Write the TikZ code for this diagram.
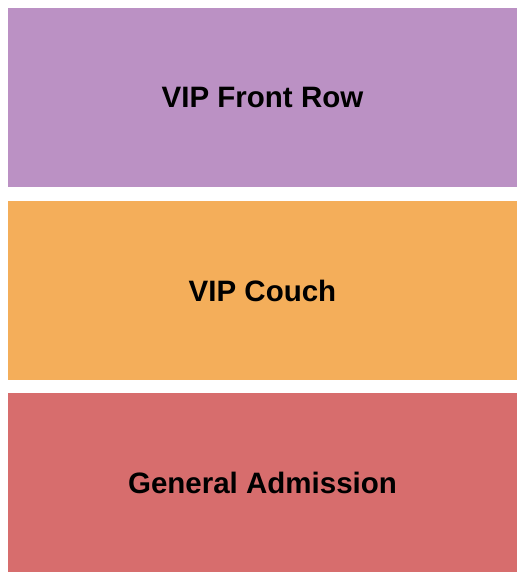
\documentclass[tikz,border=0pt]{standalone}
\usepackage{fontspec}
\setmainfont{Liberation Sans}
\definecolor{frontrow}{HTML}{BB91C4}
\definecolor{couch}{HTML}{F4AE5A}
\definecolor{general}{HTML}{D76D6D}
\begin{document}
\begin{tikzpicture}[x=1pt, y=1pt]
\tikzset{zone/.style={draw=none, rectangle, minimum width=509pt, minimum height=179pt, inner sep=0pt, font=\bfseries\fontsize{29.5}{34}\selectfont}}
\useasboundingbox (0, 0) rectangle (525, 580);
\fill[white] (0, 0) rectangle (525, 580);
\node[zone, fill=frontrow] (Front) at (262.5, 482.5) {VIP Front Row};
\node[zone, fill=couch] (Couch) at (262.5, 289.5) {VIP Couch};
\node[zone, fill=general] (General) at (262.5, 97.5) {General Admission};
\end{tikzpicture}
\end{document}
